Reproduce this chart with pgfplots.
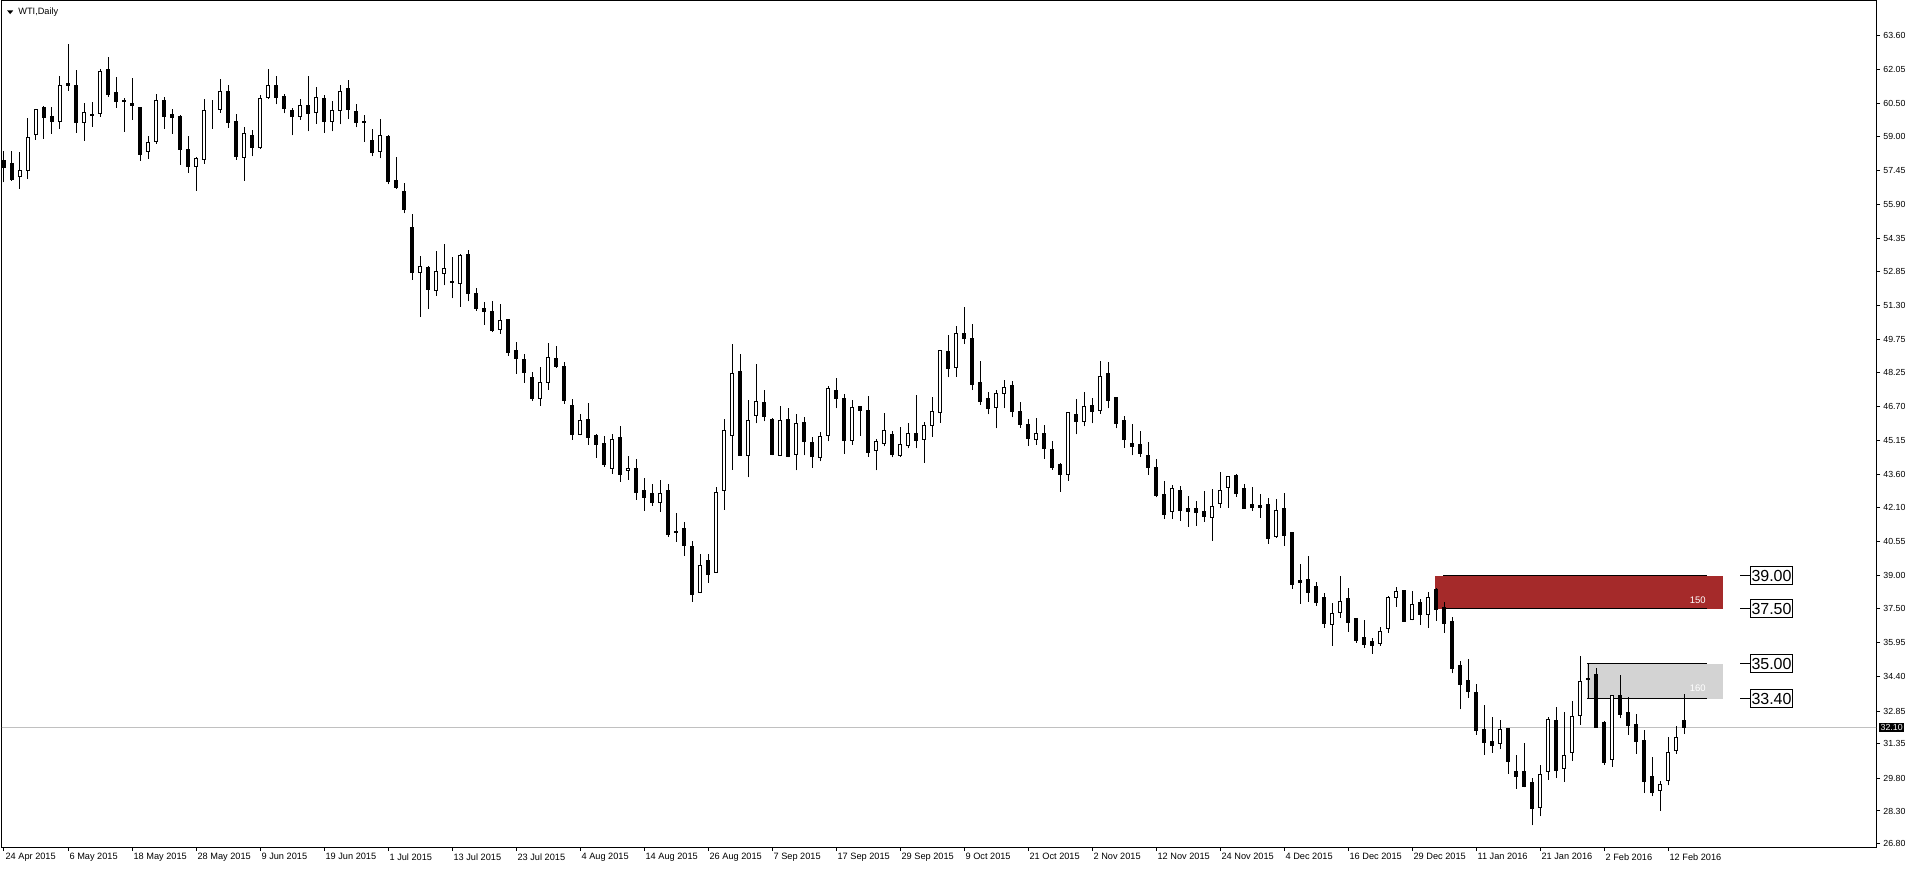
\documentclass[border=0pt]{standalone}
\usepackage{fontspec}
\setmainfont{Liberation Sans}
\usepackage{pgfplots}
\usepackage{pgfplotstable}
\pgfplotsset{compat=1.18}
\definecolor{zonered}{RGB}{165,42,42}
\definecolor{zonegray}{RGB}{211,211,211}
\definecolor{priceline}{RGB}{192,192,192}

\pgfplotstableread{
i o h l c
0 57.89 58.34 56.91 57.58
1 57.79 58.34 56.98 57.04
2 57.19 58.29 56.63 57.46
3 57.44 59.84 57.08 58.96
4 59.10 60.25 58.86 60.24
5 60.30 60.40 58.90 59.86
6 59.89 60.34 59.13 59.67
7 59.69 61.75 59.36 61.33
8 61.39 63.21 61.09 61.31
9 61.33 62.03 59.17 59.63
10 59.64 60.52 58.81 60.10
11 60.02 60.57 59.45 59.95
12 60.05 62.07 59.90 61.98
13 62.03 62.62 60.81 60.89
14 61.01 61.71 60.31 60.59
15 60.62 60.75 59.22 60.60
16 60.52 61.66 59.77 60.40
17 60.30 60.36 57.90 58.19
18 58.32 59.02 57.99 58.73
19 58.76 60.92 58.67 60.65
20 60.65 60.80 59.36 59.90
21 60.01 60.25 59.13 59.86
22 59.89 59.98 57.72 58.40
23 58.43 59.04 57.35 57.63
24 57.64 58.05 56.53 58.01
25 57.96 60.71 57.76 60.19
26 60.30 60.66 59.36 60.30
27 60.24 61.62 60.08 61.06
28 61.03 61.34 59.40 59.63
29 59.66 60.02 57.95 58.08
30 58.06 59.43 56.99 59.15
31 59.06 59.30 58.09 58.50
32 58.50 60.90 58.44 60.74
33 60.79 62.08 60.70 61.34
34 61.34 61.76 60.46 60.79
35 60.84 60.93 60.05 60.28
36 60.20 60.29 59.05 59.91
37 59.93 60.70 59.77 60.43
38 60.43 61.76 59.23 60.06
39 60.11 61.26 59.59 60.79
40 60.74 60.88 59.18 59.68
41 59.68 60.61 59.23 60.20
42 60.20 61.35 59.55 61.06
43 61.20 61.58 59.79 60.23
44 60.15 60.49 59.41 59.64
45 59.67 59.97 58.77 59.62
46 58.83 59.33 58.09 58.27
47 58.33 59.79 58.00 59.06
48 59.02 59.06 56.82 56.95
49 57.01 58.07 56.63 56.68
50 56.51 56.88 55.50 55.68
51 54.87 55.48 52.49 52.81
52 52.83 53.55 50.78 53.10
53 53.05 53.11 51.14 52.04
54 52.01 53.80 51.76 52.87
55 52.78 54.11 52.22 53.01
56 52.39 53.51 51.63 52.34
57 52.32 53.64 51.26 53.60
58 53.64 53.84 51.49 51.85
59 51.86 52.10 51.07 51.17
60 51.15 51.45 50.44 51.03
61 51.04 51.51 50.09 50.16
62 50.22 51.38 50.03 50.63
63 50.65 50.68 49.03 49.16
64 49.24 49.65 48.21 48.89
65 48.83 49.10 47.80 48.25
66 48.01 48.28 46.98 47.07
67 47.07 48.51 46.73 47.81
68 47.81 49.60 47.48 48.95
69 48.90 49.47 48.48 48.52
70 48.54 48.74 46.84 46.98
71 46.77 47.05 45.20 45.43
72 45.43 46.37 45.40 46.08
73 46.13 46.87 44.97 45.29
74 45.37 45.46 44.38 44.97
75 45.01 45.37 43.97 44.06
76 43.88 45.46 43.66 45.22
77 45.28 45.82 43.29 43.61
78 43.81 44.46 43.37 43.90
79 43.87 44.32 42.47 42.79
80 42.87 43.46 41.97 42.56
81 42.76 43.18 42.20 42.34
82 42.34 43.37 41.93 42.76
83 42.87 43.18 40.79 40.88
84 41.00 41.86 40.56 40.97
85 41.14 41.45 39.91 40.38
86 40.36 40.59 37.83 38.15
87 38.24 40.00 38.21 39.48
88 39.71 40.00 38.69 39.06
89 39.17 43.04 39.14 42.81
90 42.90 46.15 42.02 45.63
91 45.40 49.56 43.84 48.23
92 48.32 49.11 44.45 44.48
93 44.49 47.01 43.48 46.09
94 46.31 48.65 45.94 46.95
95 46.91 47.47 46.03 46.25
96 46.10 46.18 44.49 44.52
97 44.49 46.74 44.48 46.09
98 46.10 46.65 44.39 44.42
99 44.54 46.38 43.80 45.95
100 46.00 46.24 44.48 45.12
101 45.09 45.33 43.93 44.43
102 44.40 45.56 44.21 45.36
103 45.40 47.63 45.12 47.54
104 47.45 48.01 46.62 47.09
105 47.09 47.27 44.57 45.16
106 45.18 47.00 44.98 46.68
107 46.69 46.74 45.39 46.53
108 46.54 47.18 44.43 44.62
109 44.72 45.22 43.80 45.13
110 45.04 46.42 44.89 45.63
111 45.45 45.59 44.39 44.52
112 44.49 45.78 44.43 44.98
113 44.95 45.97 44.80 45.50
114 45.50 47.23 44.80 45.16
115 45.22 46.01 44.16 45.86
116 45.86 47.15 45.34 46.50
117 46.45 49.29 45.98 49.27
118 49.23 49.97 48.03 48.44
119 48.50 50.38 48.07 50.05
120 50.05 51.25 49.55 49.80
121 49.82 50.47 47.45 47.71
122 47.82 48.79 46.80 46.94
123 47.09 47.36 46.35 46.62
124 46.68 47.45 45.71 47.32
125 47.32 47.92 46.62 47.57
126 47.68 47.88 46.21 46.48
127 46.50 46.91 45.75 45.89
128 45.91 46.13 44.93 45.25
129 45.22 46.18 44.97 45.48
130 45.50 45.86 44.34 44.80
131 44.77 45.13 43.83 43.92
132 44.05 44.15 42.84 43.61
133 43.61 46.47 43.33 46.45
134 46.36 47.06 45.44 46.03
135 46.03 47.38 45.80 46.72
136 46.77 47.10 45.94 46.48
137 46.54 48.79 46.39 48.09
138 48.23 48.74 46.62 46.98
139 47.10 47.15 45.71 45.94
140 46.09 46.27 44.84 45.21
141 45.04 45.91 44.48 44.89
142 44.99 45.59 44.43 44.57
143 44.49 45.09 43.61 43.93
144 43.95 44.31 42.57 42.66
145 42.72 43.31 41.58 41.81
146 41.95 43.14 41.58 42.99
147 42.87 43.09 41.50 41.97
148 42.05 42.64 41.24 41.93
149 42.09 42.41 41.29 41.88
150 41.94 42.87 41.47 41.70
151 41.67 42.96 40.61 42.18
152 42.31 43.73 42.11 42.90
153 43.03 43.55 42.11 43.53
154 43.55 43.64 42.61 42.75
155 43.00 43.16 42.05 42.06
156 42.23 43.05 41.97 42.12
157 42.20 42.73 41.65 42.11
158 42.23 42.55 40.47 40.70
159 40.79 42.50 40.74 41.99
160 42.05 42.78 40.38 40.83
161 40.97 41.00 38.42 38.60
162 38.79 39.54 37.74 38.69
163 38.82 39.91 37.83 38.24
164 38.50 38.73 37.65 37.78
165 38.00 38.22 36.65 36.83
166 36.78 37.77 35.83 37.30
167 37.34 39.00 37.10 37.85
168 37.95 38.45 36.46 36.87
169 37.04 37.07 35.96 36.04
170 36.18 36.99 35.74 35.87
171 36.00 36.18 35.46 35.83
172 35.92 36.68 35.83 36.48
173 36.60 38.07 36.42 38.03
174 38.03 38.50 37.60 38.30
175 38.35 38.35 36.92 36.92
176 37.03 38.32 36.97 37.71
177 37.77 37.94 36.77 37.24
178 37.24 38.27 36.65 38.03
179 38.40 38.43 36.95 37.47
180 37.58 37.79 36.42 36.83
181 36.91 37.14 34.56 34.78
182 34.94 35.13 32.92 34.06
183 34.22 35.22 33.46 33.74
184 33.71 34.07 31.78 31.96
185 32.02 33.11 30.87 31.41
186 31.48 32.60 30.96 31.28
187 31.39 32.43 31.10 32.02
188 32.07 32.07 30.00 30.55
189 30.08 30.85 29.32 29.87
190 30.08 31.40 29.37 29.43
191 29.58 29.79 27.64 28.41
192 28.46 30.41 28.05 29.97
193 30.11 32.58 29.72 32.48
194 32.43 33.05 29.79 30.14
195 30.23 32.81 29.64 30.84
196 30.97 33.31 30.58 32.61
197 32.66 35.36 32.23 34.21
198 34.33 35.00 33.40 34.27
199 34.53 34.80 32.08 32.10
200 32.31 32.39 30.41 30.51
201 30.64 33.58 30.32 33.57
202 33.57 34.50 32.52 32.70
203 32.80 33.49 31.76 32.20
204 32.22 32.70 30.91 31.46
205 31.52 31.98 29.11 29.66
206 29.85 30.76 28.96 29.15
207 29.25 29.67 28.32 29.52
208 29.70 31.66 29.46 30.98
209 31.07 32.17 30.91 31.66
210 32.40 33.63 31.80 32.10
}\candles

\pgfplotstablecreatecol[create col/expr={min(\thisrow{o},\thisrow{c})}]{base}\candles
\pgfplotstablecreatecol[create col/expr={max(\thisrow{c}-\thisrow{o},0)}]{bull}\candles
\pgfplotstablecreatecol[create col/expr={max(\thisrow{o}-\thisrow{c},0)}]{bear}\candles
\pgfplotstablecreatecol[create col/expr={\thisrow{h}-\thisrow{l}}]{rng}\candles

\pgfplotsset{
  common/.style={
    at={(1pt,433.75pt)}, anchor=north west,
    scale only axis, width=937pt, height=423.25pt,
    xmin=-0.25, xmax=234, ymin=26.66, ymax=65.19,
    enlargelimits=false,
  }
}

\begin{document}
\begin{tikzpicture}
\path[use as bounding box] (0,0) rectangle (958pt,434pt);

\begin{axis}[common, name=main,
  axis line style={line width=0.5pt, black},
  tick align=outside, major tick length=2pt,
  every tick/.style={black, line width=0.5pt},
  xtick pos=left, ytick pos=right, yticklabel pos=right,
  xtick={0,8,...,208},
  xticklabels={24 Apr 2015,6 May 2015,18 May 2015,28 May 2015,9 Jun 2015,19 Jun 2015,1 Jul 2015,13 Jul 2015,23 Jul 2015,4 Aug 2015,14 Aug 2015,26 Aug 2015,7 Sep 2015,17 Sep 2015,29 Sep 2015,9 Oct 2015,21 Oct 2015,2 Nov 2015,12 Nov 2015,24 Nov 2015,4 Dec 2015,16 Dec 2015,29 Dec 2015,11 Jan 2016,21 Jan 2016,2 Feb 2016,12 Feb 2016},
  xticklabel style={anchor=north west, inner sep=0pt, xshift=0.6pt, yshift=-1pt, font=\fontsize{4.6}{5}\selectfont},
  ytick={26.80,28.30,29.80,31.35,32.85,34.40,35.95,37.50,39.00,40.55,42.10,43.60,45.15,46.70,48.25,49.75,51.30,52.85,54.35,55.90,57.45,59.00,60.50,62.05,63.60},
  yticklabels={26.80,28.30,29.80,31.35,32.85,34.40,35.95,37.50,39.00,40.55,42.10,43.60,45.15,46.70,48.25,49.75,51.30,52.85,54.35,55.90,57.45,59.00,60.50,62.05,63.60},
  yticklabel style={anchor=west, inner sep=0pt, xshift=1.5pt, font=\fontsize{4.4}{5}\selectfont},
  extra y ticks={32.10}, extra y tick labels={32.10},
  extra y tick style={major tick length=0pt, yticklabel style={fill=black, text=white, inner xsep=0.6pt, inner ysep=0.6pt, xshift=0pt}},
]
% price line
\addplot[priceline, line width=0.5pt, forget plot] coordinates {(-1,32.10) (235,32.10)};
% zones
\fill[zonered] (axis cs:178.875,37.50) rectangle (axis cs:214.875,39.00);
\fill[zonegray] (axis cs:197.875,33.40) rectangle (axis cs:214.875,35.00);
\draw[black, line width=0.5pt] (axis cs:179.875,39.00) -- (axis cs:212.875,39.00);
\draw[black, line width=0.5pt] (axis cs:179.875,37.50) -- (axis cs:212.875,37.50);
\draw[black, line width=0.5pt] (axis cs:197.875,35.00) -- (axis cs:212.875,35.00);
\draw[black, line width=0.5pt] (axis cs:197.875,33.40) -- (axis cs:212.875,33.40);
% wicks
\addplot[draw=none, mark=none, forget plot,
  error bars/.cd, y dir=plus, y explicit,
  error bar style={draw=black, line width=0.5pt}, error mark=none]
  table[x=i, y=l, y error=rng] {\candles};
\end{axis}

\begin{axis}[common, hide axis, ybar stacked, bar width=1.85pt]
\addplot[draw=none, fill=none] table[x=i, y=base] {\candles};
\addplot[fill=white, draw=black, line width=0.5pt] table[x=i, y=bull] {\candles};
\addplot[fill=black, draw=black, line width=0.5pt] table[x=i, y=bear] {\candles};
% zone texts
\node[anchor=east, text=white, inner sep=0pt, font=\fontsize{4.75}{5}\selectfont] at (axis cs:212.75,37.91) {150};
\node[anchor=east, text=white, inner sep=0pt, font=\fontsize{4.75}{5}\selectfont] at (axis cs:212.75,33.87) {160};
% right labels
\draw[black, line width=0.5pt] (axis cs:217,39.00) -- (axis cs:218.25,39.00);
\draw[black, line width=0.5pt] (axis cs:217,37.50) -- (axis cs:218.25,37.50);
\draw[black, line width=0.5pt] (axis cs:217,35.00) -- (axis cs:218.25,35.00);
\draw[black, line width=0.5pt] (axis cs:217,33.40) -- (axis cs:218.25,33.40);
\node[draw=black, line width=0.5pt, fill=white, anchor=west, minimum width=21pt, minimum height=9pt, inner sep=0pt, font=\fontsize{8}{8}\selectfont] at (axis cs:218.25,39.00) {39.00};
\node[draw=black, line width=0.5pt, fill=white, anchor=west, minimum width=21pt, minimum height=9pt, inner sep=0pt, font=\fontsize{8}{8}\selectfont] at (axis cs:218.25,37.50) {37.50};
\node[draw=black, line width=0.5pt, fill=white, anchor=west, minimum width=21pt, minimum height=9pt, inner sep=0pt, font=\fontsize{8}{8}\selectfont] at (axis cs:218.25,35.00) {35.00};
\node[draw=black, line width=0.5pt, fill=white, anchor=west, minimum width=21pt, minimum height=9pt, inner sep=0pt, font=\fontsize{8}{8}\selectfont] at (axis cs:218.25,33.40) {33.40};
\end{axis}

% chart title
\fill[black] ([xshift=2.6pt,yshift=-5pt]main.north west) -- ++(3pt,0) -- ++(-1.5pt,-1.8pt) -- cycle;
\node[anchor=west, inner sep=0pt, font=\fontsize{4.6}{5}\selectfont] at ([xshift=8pt,yshift=-6pt]main.north west) {WTI,Daily};
\end{tikzpicture}
\end{document}
